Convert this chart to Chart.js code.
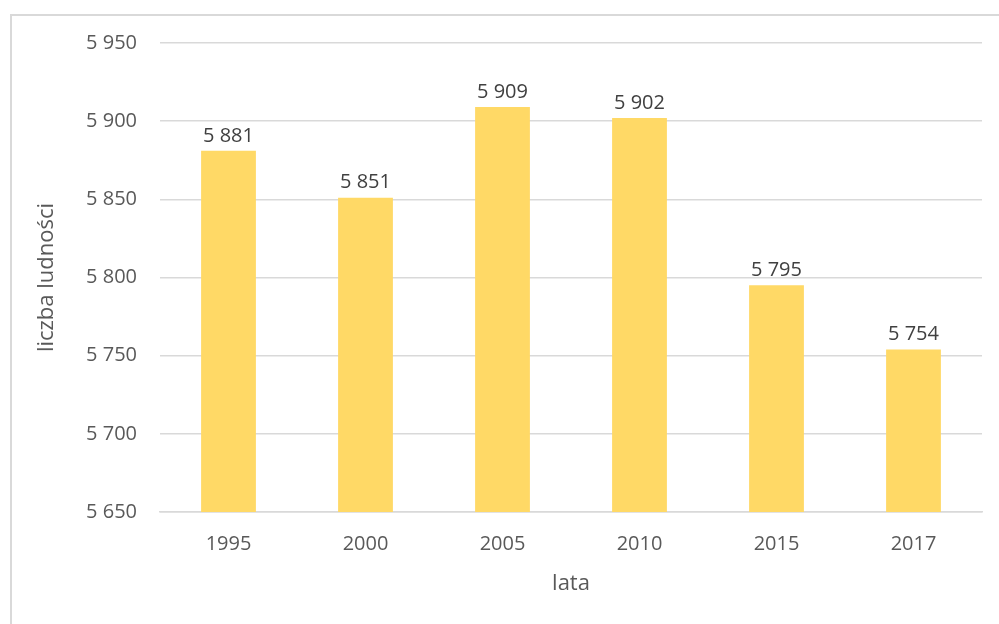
<!DOCTYPE html>
<html>
<head>
<meta charset="utf-8">
<script src="https://cdn.jsdelivr.net/npm/chart.js@4"></script>
<style>
  html, body { margin: 0; padding: 0; background: #fff; }
  #wrap { position: relative; width: 999px; height: 624px; }
  #frame { position: absolute; left: 10px; top: 14px; width: 1000px; height: 620px;
           border-left: 2px solid #d9d9d9; border-top: 2px solid #d9d9d9; pointer-events: none; }
</style>
</head>
<body>
<div id="wrap">
  <canvas id="c" width="999" height="624"></canvas>
  <div id="frame"></div>
</div>
<script>
const categories = ['1995', '2000', '2005', '2010', '2015', '2017'];
const population = [5881, 5851, 5909, 5902, 5795, 5754];
const yMin = 5650, yMax = 5950, yStep = 50;
const xTitle = 'lata';
const yTitle = 'liczba ludności';

const FONT = "'Open Sans', 'Liberation Sans', Arial, sans-serif";
const TEXT = '#595959';
const fmt = v => {
  const s = String(Math.round(v));
  return s.replace(/\B(?=(\d{3})+(?!\d))/g, ' ');
};

const labelPlugin = {
  id: 'barLabels',
  afterDatasetsDraw(chart) {
    const ctx = chart.ctx;
    const meta = chart.getDatasetMeta(0);
    ctx.save();
    ctx.font = '20px ' + FONT;
    ctx.fillStyle = '#404040';
    ctx.textAlign = 'center';
    ctx.textBaseline = 'bottom';
    meta.data.forEach((bar, i) => {
      ctx.fillText(fmt(chart.data.datasets[0].data[i]), bar.x, bar.y - 5);
    });
    ctx.restore();
  }
};

new Chart(document.getElementById('c'), {
  type: 'bar',
  data: {
    labels: categories,
    datasets: [{
      data: population,
      backgroundColor: '#FFD966',
      borderWidth: 0,
      barPercentage: 0.8,
      categoryPercentage: 0.5
    }]
  },
  options: {
    responsive: false,
    animation: false,
    devicePixelRatio: 1,
    layout: { padding: { top: 43, right: 17, bottom: 0, left: 0 } },
    plugins: { legend: { display: false }, tooltip: { enabled: false } },
    scales: {
      x: {
        grid: { display: false, drawTicks: false },
        border: { display: true, color: '#d9d9d9', width: 1.5 },
        ticks: { color: TEXT, font: { family: FONT, size: 20 }, padding: 20 },
        title: { display: true, text: xTitle, color: TEXT, font: { family: FONT, size: 22 }, padding: { top: 10, bottom: 27 } },
        afterFit(s) { s.height = 112; }
      },
      y: {
        min: yMin, max: yMax,
        grid: { color: '#d9d9d9', lineWidth: 1.5, drawTicks: false },
        border: { display: false },
        ticks: { stepSize: yStep, color: TEXT, font: { family: FONT, size: 20 }, padding: 23, callback: v => fmt(v) },
        title: { display: true, text: yTitle, color: TEXT, font: { family: FONT, size: 22 }, padding: { top: 34, bottom: 0 } },
        afterFit(s) { s.width = 160; }
      }
    }
  },
  plugins: [labelPlugin]
});
</script>
</body>
</html>
